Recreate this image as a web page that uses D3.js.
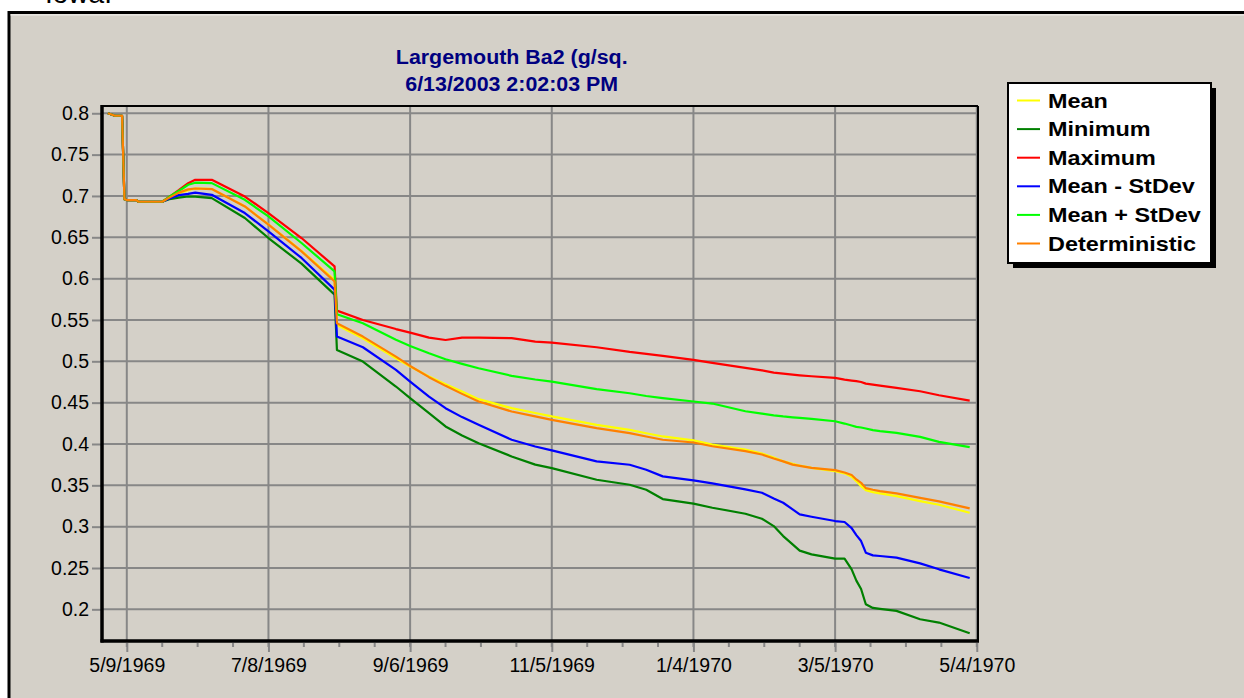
<!DOCTYPE html>
<html>
<head>
<meta charset="utf-8">
<script src="https://cdn.jsdelivr.net/npm/d3@7"></script>
<style>
  html, body { margin: 0; padding: 0; background: #ffffff; }
  svg { display: block; }
  text { font-family: "Liberation Sans", Arial, sans-serif; }
</style>
</head>
<body>
<svg id="chart" width="1244" height="698"></svg>
<script>
// Sample dates (daily model output, thinned to the points that shape each curve)
const dates = [
  "1969-05-01","1969-05-04","1969-05-07","1969-05-08","1969-05-09","1969-05-13","1969-05-14",
  "1969-05-24","1969-05-27","1969-05-31","1969-06-04","1969-06-07","1969-06-14","1969-06-28",
  "1969-07-08","1969-07-22","1969-08-05","1969-08-06","1969-08-17","1969-08-31","1969-09-06",
  "1969-09-14","1969-09-21","1969-09-28","1969-10-05","1969-10-19","1969-10-29","1969-11-05",
  "1969-11-24","1969-12-08","1969-12-15","1969-12-22","1970-01-04","1970-01-12","1970-01-26",
  "1970-02-02","1970-02-07","1970-02-11","1970-02-15","1970-02-18","1970-02-23","1970-03-05",
  "1970-03-09","1970-03-12","1970-03-14","1970-03-16","1970-03-18","1970-03-21","1970-03-24",
  "1970-03-31","1970-04-10","1970-04-18","1970-05-01"
];

const meanValues = [
  .800,.797,.797,.696,.695,.695,.693,.693,.698,.703,.707,.709,.7085,.6875,
  .6655,.6335,.5985,.544,.5279,.5037,.4936,.4816,.4723,.4634,.4542,.4433,.4375,.4333,
  .4232,.4171,.413,.4091,.4043,.3993,.3933,.3885,.3835,.379,.376,.374,.3712,.3671,
  .3645,.3605,.3551,.349,.3442,.3418,.3402,.337,.3309,.3265,.3168
];
const minimumValues = [
  .800,.797,.797,.696,.695,.695,.693,.693,.696,.698,.6993,.6993,.6974,.6733,
  .6491,.6181,.5806,.5138,.4997,.4695,.4554,.4373,.4212,.4103,.401,.3849,.375,.3708,
  .3567,.3507,.3447,.3334,.3278,.3229,.3156,.3096,.3007,.2886,.2786,.271,.2665,.2613,
  .2613,.2484,.2347,.2246,.2061,.2017,.2005,.1981,.188,.184,.1711
];
const maximumValues = [
  .800,.797,.797,.696,.695,.695,.693,.693,.699,.707,.7155,.7195,.7195,.6993,
  .6793,.6491,.6148,.5613,.550,.539,.5347,.5287,.5258,.5287,.5287,.528,.5238,.5226,
  .517,.5113,.509,.5065,.5017,.498,.492,.4891,.4863,.485,.4838,.483,.4819,.4799,
  .4779,.4767,.476,.475,.473,.4718,.4706,.4678,.4638,.4589,.4525
];
const meanMinusSdValues = [
  .800,.797,.797,.696,.695,.695,.693,.693,.697,.701,.7026,.704,.7014,.6793,
  .6571,.625,.5867,.5299,.517,.4896,.4755,.4574,.4433,.4325,.4232,.4051,.397,.3922,
  .3789,.3749,.3688,.3608,.356,.3523,.345,.341,.334,.3289,.321,.3148,.312,.3068,
  .3056,.2983,.2898,.2826,.2685,.2653,.2645,.2625,.2556,.2484,.2379
];
const meanPlusSdValues = [
  .800,.797,.797,.696,.695,.695,.693,.693,.699,.706,.7135,.716,.7155,.6953,
  .6752,.6431,.6088,.557,.546,.526,.5186,.5097,.5025,.4969,.4916,.4824,.478,.4755,
  .4663,.4614,.458,.4554,.4514,.4489,.4396,.4368,.4347,.4333,.4322,.4315,.4304,.4275,
  .4247,.4223,.4207,.4199,.4187,.4167,.4155,.4134,.4086,.4026,.3961
];
const deterministicValues = [
  .800,.797,.797,.696,.695,.695,.693,.693,.698,.704,.708,.709,.7083,.6873,
  .6652,.633,.5967,.546,.5299,.5057,.4944,.4808,.4703,.4606,.4514,.4393,.4333,.4292,
  .4192,.4131,.409,.4051,.4018,.3973,.3913,.3873,.3825,.379,.375,.3735,.3712,.3684,
  .3655,.3625,.3571,.353,.3466,.3446,.343,.3402,.3349,.3305,.3221
];

const seriesNames  = ["Mean","Minimum","Maximum","Mean - StDev","Mean + StDev","Deterministic"];
const seriesColors = ["#ffff00","#008000","#ff0000","#0000ff","#00ff00","#ff8000"];
const seriesValues = [meanValues, minimumValues, maximumValues, meanMinusSdValues, meanPlusSdValues, deterministicValues];

const xTickDates  = ["1969-05-09","1969-07-08","1969-09-06","1969-11-05","1970-01-04","1970-03-05","1970-05-04"];
const xTickLabels = ["5/9/1969","7/8/1969","9/6/1969","11/5/1969","1/4/1970","3/5/1970","5/4/1970"];
const yTickValues = [0.2,0.25,0.3,0.35,0.4,0.45,0.5,0.55,0.6,0.65,0.7,0.75,0.8];
const yTickLabels = ["0.2","0.25","0.3","0.35","0.4","0.45","0.5","0.55","0.6","0.65","0.7","0.75","0.8"];

const titleLines = ["Largemouth Ba2 (g/sq.", "6/13/2003 2:02:03 PM"];

const parse = d3.utcParse("%Y-%m-%d");
const svg = d3.select("#chart");

// Panel frame
svg.append("rect").attr("x", 9).attr("y", 12.5).attr("width", 1260).attr("height", 720)
  .attr("fill", "#d4d0c8").attr("stroke", "#000").attr("stroke-width", 3);
svg.append("line").attr("x1", 10.5).attr("x2", 1244).attr("y1", 14.8).attr("y2", 14.8)
  .attr("stroke", "#eeece8").attr("stroke-width", 1.2);

// Heading text running above the panel
svg.append("text").attr("x", 45).attr("y", 2.5).attr("font-size", 28).attr("fill", "#000").text("Iowa.");

const plot = { left: 102, right: 978, top: 106, bottom: 641 };

const x = d3.scaleUtc()
  .domain([Date.UTC(1969, 3, 28, 12), Date.UTC(1970, 4, 4, 12, 30)])
  .range([plot.left, plot.right]);
const y = d3.scaleLinear()
  .domain([0.1617, 0.8088])
  .range([plot.bottom, plot.top]);

const gridColor = "#878787";

// Horizontal grid
svg.append("g").selectAll("line").data(yTickValues).join("line")
  .attr("x1", plot.left).attr("x2", plot.right)
  .attr("y1", d => y(d)).attr("y2", d => y(d))
  .attr("stroke", gridColor).attr("stroke-width", 2);

// Vertical grid
const majorDates = xTickDates.map(parse);
svg.append("g").selectAll("line").data(majorDates).join("line")
  .attr("x1", d => x(d)).attr("x2", d => x(d))
  .attr("y1", plot.top).attr("y2", plot.bottom)
  .attr("stroke", gridColor).attr("stroke-width", 2);

// Y axis ticks + labels
const yAxis = d3.axisLeft(y).tickValues(yTickValues)
  .tickFormat((d, i) => yTickLabels[i]).tickSize(9).tickPadding(3);
const gy = svg.append("g").attr("transform", `translate(${plot.left - 1},0)`).call(yAxis);
gy.select(".domain").remove();
gy.selectAll(".tick line").attr("stroke", gridColor).attr("stroke-width", 2);
gy.selectAll(".tick text").attr("font-size", 19.5).attr("fill", "#000")
  .style("font-family", '"Liberation Sans", Arial, sans-serif');

// X axis: labelled ticks every 60 days, minor ticks every 15 days
const minorDates = d3.range(0, 25).map(i => d3.utcDay.offset(majorDates[0], i * 15))
  .filter(d => d <= x.domain()[1]);
svg.append("g").selectAll("line").data(minorDates).join("line")
  .attr("x1", d => x(d)).attr("x2", d => x(d))
  .attr("y1", plot.bottom + 2).attr("y2", plot.bottom + 6)
  .attr("stroke", gridColor).attr("stroke-width", 2);

const xAxis = d3.axisBottom(x).tickValues(majorDates)
  .tickFormat((d, i) => xTickLabels[i]).tickSize(9).tickPadding(6);
const gx = svg.append("g").attr("transform", `translate(0,${plot.bottom + 2})`).call(xAxis);
gx.select(".domain").remove();
gx.selectAll(".tick line").attr("stroke", gridColor).attr("stroke-width", 2);
gx.selectAll(".tick text").attr("font-size", 19.5).attr("fill", "#000")
  .style("font-family", '"Liberation Sans", Arial, sans-serif');

// Series lines
const parsedDates = dates.map(parse);
const line = d3.line().x(d => x(d[0])).y(d => y(d[1]));
const linesG = svg.append("g");
seriesValues.forEach((vals, i) => {
  const pts = parsedDates.map((d, j) => [d, vals[j]]);
  linesG.append("path").datum(pts)
    .attr("d", line).attr("fill", "none")
    .attr("stroke", seriesColors[i]).attr("stroke-width", 2.2)
    .attr("stroke-linejoin", "round");
});

// Plot border: heavy left/bottom axes, thin top/right edges
svg.append("line").attr("x1", plot.left).attr("x2", plot.right).attr("y1", plot.top).attr("y2", plot.top)
  .attr("stroke", "#000").attr("stroke-width", 2);
svg.append("line").attr("x1", plot.right).attr("x2", plot.right).attr("y1", plot.top).attr("y2", plot.bottom)
  .attr("stroke", "#000").attr("stroke-width", 2);
svg.append("line").attr("x1", plot.left).attr("x2", plot.left).attr("y1", plot.top - 1).attr("y2", plot.bottom + 1.5)
  .attr("stroke", "#000").attr("stroke-width", 3.5);
svg.append("line").attr("x1", plot.left - 1.5).attr("x2", plot.right + 1).attr("y1", plot.bottom).attr("y2", plot.bottom)
  .attr("stroke", "#000").attr("stroke-width", 3.5);

// Title
titleLines.forEach((t, i) => {
  svg.append("text")
    .attr("transform", `translate(511.7,${63.5 + i * 27}) scale(1.07,1)`)
    .attr("text-anchor", "middle").attr("font-size", 20).attr("font-weight", "bold")
    .attr("fill", "#000080").text(t);
});

// Legend
const lg = { x: 1008, y: 83, w: 203, h: 180 };
svg.append("rect").attr("x", lg.x + 5).attr("y", lg.y + 5).attr("width", lg.w).attr("height", lg.h).attr("fill", "#000");
svg.append("rect").attr("x", lg.x).attr("y", lg.y).attr("width", lg.w).attr("height", lg.h)
  .attr("fill", "#fff").attr("stroke", "#000").attr("stroke-width", 2);
const rows = svg.append("g").selectAll("g").data(seriesNames).join("g")
  .attr("transform", (d, i) => `translate(0,${100.5 + i * 28.6})`);
rows.append("line").attr("x1", 1017).attr("x2", 1040).attr("y1", 0).attr("y2", 0)
  .attr("stroke", (d, i) => seriesColors[i]).attr("stroke-width", 2);
rows.append("text").attr("transform", "translate(1048,7) scale(1.2,1)")
  .attr("font-size", 19.5).attr("font-weight", "bold").attr("fill", "#000").text(d => d);
</script>
</body>
</html>
